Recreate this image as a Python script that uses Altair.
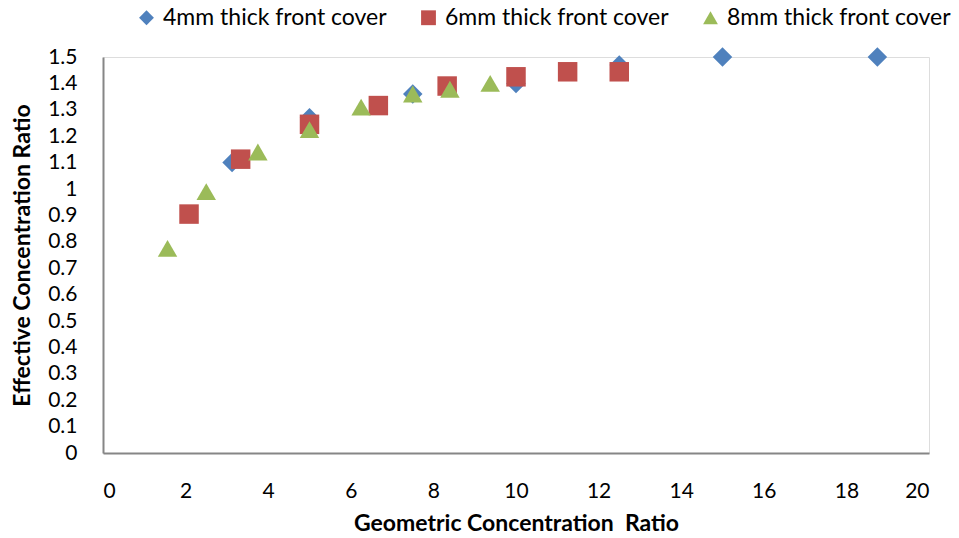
import altair as alt
import pandas as pd

series_names = ["4mm thick front cover", "6mm thick front cover", "8mm thick front cover"]

x_4mm = [3.125, 5.0, 7.5, 10.0, 12.5, 15.0, 18.75]
y_4mm = [1.10, 1.27, 1.36, 1.40, 1.47, 1.50, 1.50]

x_6mm = [2.083, 3.333, 5.0, 6.667, 8.333, 10.0, 11.25, 12.5]
y_6mm = [0.905, 1.113, 1.245, 1.316, 1.39, 1.425, 1.444, 1.444]

x_8mm = [1.5625, 2.5, 3.75, 5.0, 6.25, 7.5, 8.4, 9.375]
y_8mm = [0.775, 0.99, 1.14, 1.225, 1.31, 1.36, 1.378, 1.40]

x_ticks = [0, 2, 4, 6, 8, 10, 12, 14, 16, 18, 20]
y_ticks = [round(i * 0.1, 1) for i in range(16)]

rows = []
for name, xs, ys in zip(series_names, [x_4mm, x_6mm, x_8mm], [y_4mm, y_6mm, y_8mm]):
    for a, b in zip(xs, ys):
        rows.append({"series": name, "x": a, "y": b})
df = pd.DataFrame(rows)

FONT = "Lato"

chart = alt.Chart(df).mark_point(filled=True, opacity=1, size=380).encode(
    x=alt.X("x:Q", scale=alt.Scale(domain=[0, 20], nice=False),
            axis=alt.Axis(values=x_ticks, title="Geometric Concentration \u00a0Ratio",
                          grid=False, ticks=False, domainColor="#868686", domainWidth=2,
                          labelFontSize=21, labelFont=FONT, labelColor="black", labelPadding=27,
                          titleFontSize=23, titleFont=FONT, titleFontWeight="bold",
                          titleColor="black", titleY=70, titleBaseline="middle")),
    y=alt.Y("y:Q", scale=alt.Scale(domain=[0, 1.5], nice=False),
            axis=alt.Axis(values=y_ticks, title="Effective Concentration Ratio",
                          grid=False, ticks=False, domainColor="#868686", domainWidth=2,
                          labelFontSize=21, labelFont=FONT, labelColor="black", labelPadding=26,
                          labelExpr="datum.value == 1 ? '1' : datum.value == 0 ? '0' : format(datum.value, '.1f')",
                          titleFontSize=23, titleFont=FONT, titleFontWeight="bold",
                          titleColor="black", titleX=-81, titleY=198, titleAngle=270,
                          titleAlign="center", titleBaseline="middle")),
    color=alt.Color("series:N", scale=alt.Scale(domain=series_names,
                                                range=["#4F81BD", "#C0504D", "#9BBB59"]),
                    legend=alt.Legend(title=None, orient="none", direction="horizontal",
                                      legendX=32, legendY=-51, columns=3,
                                      labelFontSize=23, labelFont=FONT, labelColor="black",
                                      labelLimit=0,
                                      symbolSize=220, labelOffset=5, columnPadding=30,
                                      symbolOpacity=1)),
    shape=alt.Shape("series:N", scale=alt.Scale(domain=series_names,
                                                range=["diamond", "square", "triangle-up"]),
                    legend=None),
).properties(
    width=826, height=396,
    autosize=alt.AutoSizeParams(type="none"),
    padding={"left": 103, "top": 57, "right": 30, "bottom": 85},
).configure_view(stroke="transparent").configure(background="white")

chart.save("out.html", embed_options={"renderer": "svg", "actions": False})
